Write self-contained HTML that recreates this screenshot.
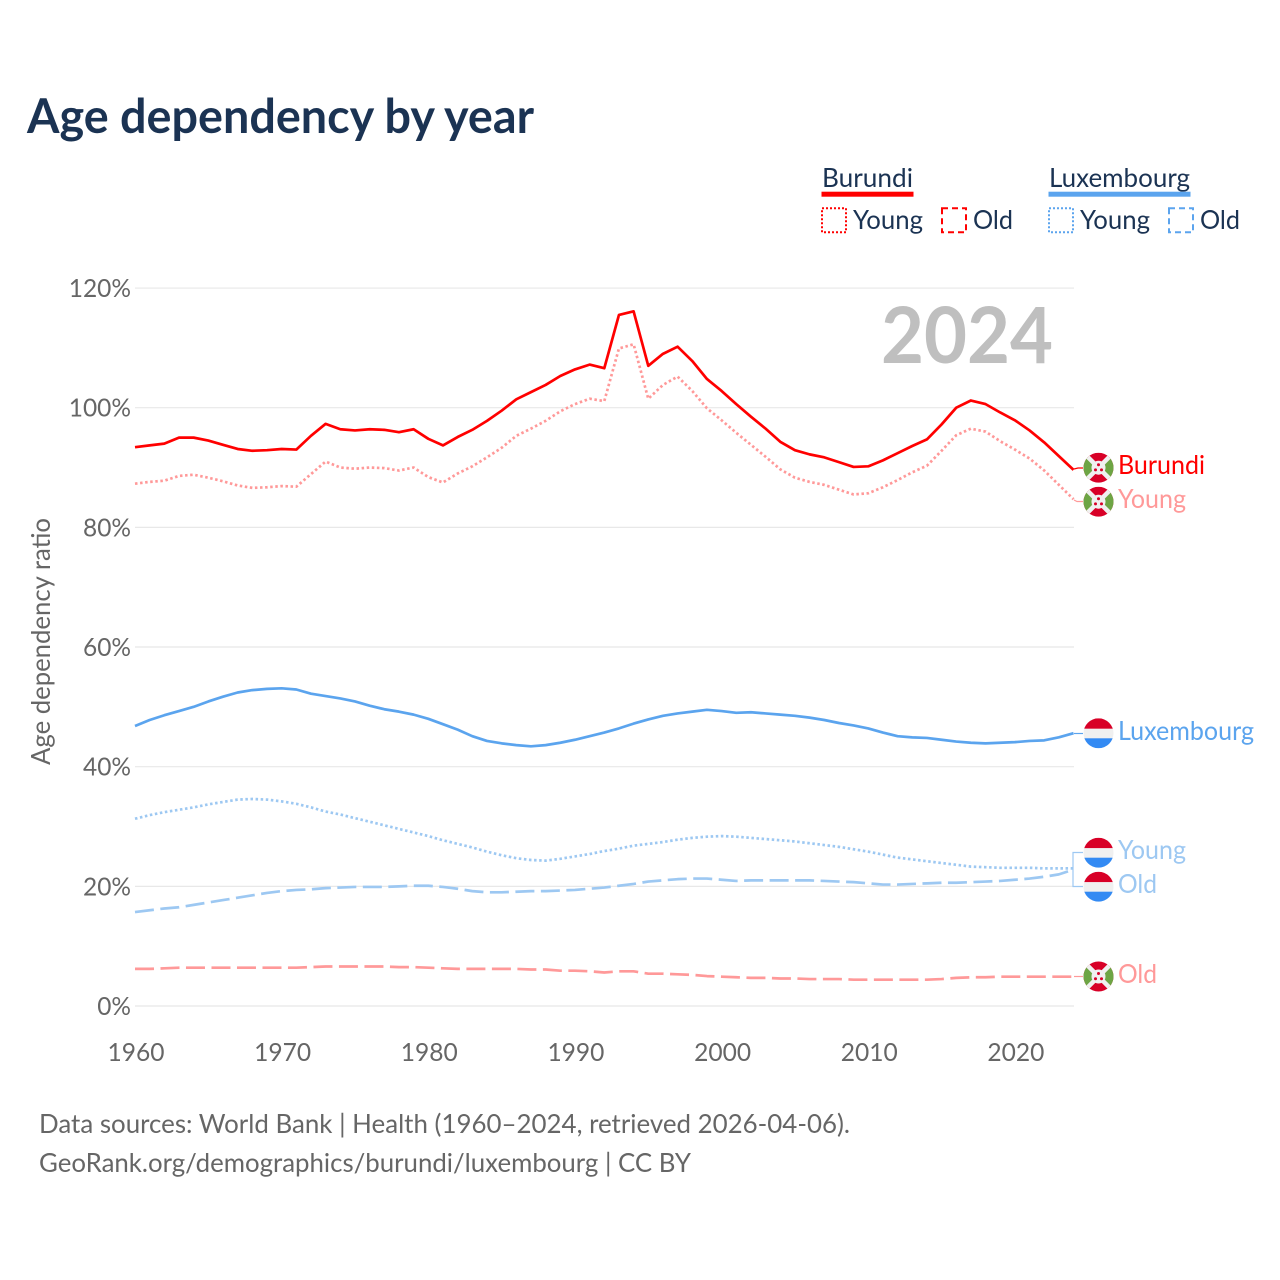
<!DOCTYPE html>
<html lang="en">
<head>
<meta charset="utf-8">
<title>Age dependency by year</title>
<style>
html,body{margin:0;padding:0;background:#fff;width:1280px;height:1280px;overflow:hidden}
svg{display:block}
text{font-family:Lato,Carlito,"Liberation Sans",sans-serif}
</style>
</head>
<body>
<svg id="chart" xmlns="http://www.w3.org/2000/svg" width="1280" height="1280" viewBox="0 0 1280 1280">
  <defs>
    <clipPath id="flag-clip"><circle cx="0" cy="0" r="15"/></clipPath>
    <g id="flag-burundi" clip-path="url(#flag-clip)">
      <rect x="-15" y="-15" width="30" height="30" fill="#d80027"/>
      <path d="M-15 -15 L0 0 L-15 15Z M15 -15 L0 0 L15 15Z" fill="#6da544"/>
      <path d="M-15 -15 L15 15 M15 -15 L-15 15" stroke="#f0f0f0" stroke-width="4.5"/>
      <circle r="7" fill="#f0f0f0"/>
      <circle cx="0" cy="-3" r="1.5" fill="#d80027"/>
      <circle cx="-3" cy="2.2" r="1.5" fill="#d80027"/>
      <circle cx="3" cy="2.2" r="1.5" fill="#d80027"/>
    </g>
    <g id="flag-luxembourg" clip-path="url(#flag-clip)">
      <rect x="-15" y="-15" width="30" height="10.5" fill="#d80027"/>
      <rect x="-15" y="-4.5" width="30" height="10" fill="#f0f0f0"/>
      <rect x="-15" y="5" width="30" height="10" fill="#338af3"/>
    </g>
  </defs>

  <text x="27" y="133" font-size="48" font-weight="700" fill="#1b3353" textLength="507" lengthAdjust="spacingAndGlyphs">Age dependency by year</text>

  <g id="grid"></g>
  <g id="y-ticks"></g>
  <g id="x-ticks"></g>

  <text transform="translate(50,765) rotate(-90)" font-size="26" fill="#666666" textLength="247" lengthAdjust="spacingAndGlyphs">Age dependency ratio</text>

  <text x="881" y="363" font-size="78" font-weight="700" fill="#bfbfbf" textLength="172" lengthAdjust="spacingAndGlyphs">2024</text>

  <g id="series"></g>

  <g fill="none" stroke-width="1.2">
    <path d="M1074 469 L1078 468 L1083 468" stroke="#ff0000"/>
    <path d="M1074 500 L1077 501.5 L1083 501.5" stroke="#ff9999"/>
    <path d="M1074 976.5 L1083 976.5" stroke="#ff9999"/>
    <path d="M1074 733.5 L1083 733.5" stroke="#5ba4ee"/>
    <path d="M1073 868 L1073 852.5 L1083 852.5" stroke="#9dc8f2"/>
    <path d="M1073 868 L1073 886.5 L1083 886.5" stroke="#9dc8f2"/>
  </g>

  <use href="#flag-burundi" x="1098.5" y="467.7"/>
  <use href="#flag-burundi" x="1098.5" y="501.7"/>
  <use href="#flag-burundi" x="1098.5" y="976.5"/>
  <use href="#flag-luxembourg" x="1098.5" y="733.3"/>
  <use href="#flag-luxembourg" x="1098.5" y="852.7"/>
  <use href="#flag-luxembourg" x="1098.5" y="886.7"/>

  <g font-size="26">
    <text x="1118" y="474" fill="#ff0000" textLength="87" lengthAdjust="spacingAndGlyphs">Burundi</text>
    <text x="1118" y="508" fill="#ff9999" textLength="68" lengthAdjust="spacingAndGlyphs">Young</text>
    <text x="1118" y="983" fill="#ff9999" textLength="39" lengthAdjust="spacingAndGlyphs">Old</text>
    <text x="1118" y="740" fill="#5ba4ee" textLength="136" lengthAdjust="spacingAndGlyphs">Luxembourg</text>
    <text x="1118" y="859" fill="#9dc8f2" textLength="68" lengthAdjust="spacingAndGlyphs">Young</text>
    <text x="1118" y="893" fill="#9dc8f2" textLength="39" lengthAdjust="spacingAndGlyphs">Old</text>
  </g>

  <g font-size="26" fill="#1b3353">
    <text x="822" y="187" textLength="91" lengthAdjust="spacingAndGlyphs">Burundi</text>
    <rect x="821.5" y="191.7" width="92" height="5" fill="#ff0000"/>
    <rect x="822" y="208.3" width="24" height="24" fill="none" stroke="#ff0000" stroke-width="2" stroke-dasharray="2 2"/>
    <text x="853" y="229" textLength="70" lengthAdjust="spacingAndGlyphs">Young</text>
    <rect x="942" y="208.3" width="24" height="24" fill="none" stroke="#ff0000" stroke-width="2" stroke-dasharray="6 4"/>
    <text x="973" y="229" textLength="40" lengthAdjust="spacingAndGlyphs">Old</text>

    <text x="1049" y="187" textLength="141" lengthAdjust="spacingAndGlyphs">Luxembourg</text>
    <rect x="1048.5" y="191.7" width="142" height="5" fill="#5ba4ee"/>
    <rect x="1049" y="208.3" width="24" height="24" fill="none" stroke="#5ba4ee" stroke-width="2" stroke-dasharray="2 2"/>
    <text x="1080" y="229" textLength="70" lengthAdjust="spacingAndGlyphs">Young</text>
    <rect x="1169" y="208.3" width="24" height="24" fill="none" stroke="#5ba4ee" stroke-width="2" stroke-dasharray="6 4"/>
    <text x="1200" y="229" textLength="40" lengthAdjust="spacingAndGlyphs">Old</text>
  </g>

  <g font-size="26" fill="#666666">
    <text x="39" y="1133" textLength="811" lengthAdjust="spacingAndGlyphs">Data sources: World Bank | Health (1960–2024, retrieved 2026-04-06).</text>
    <text x="39" y="1172" textLength="652" lengthAdjust="spacingAndGlyphs">GeoRank.org/demographics/burundi/luxembourg | CC BY</text>
  </g>
</svg>
<script>
const startYear = 1960;
const yTickValues = [0, 20, 40, 60, 80, 100, 120];
const xTickValues = [1960, 1970, 1980, 1990, 2000, 2010, 2020];

const burundiTotal = [
  93.4,93.7,94.0,95.0,95.0,94.5,93.8,93.1,92.8,92.9,
  93.1,93.0,95.3,97.3,96.4,96.2,96.4,96.3,95.9,96.4,
  94.8,93.7,95.1,96.3,97.8,99.5,101.4,102.6,103.8,105.3,
  106.4,107.2,106.6,115.5,116.1,107.0,109.0,110.2,107.8,104.8,
  102.8,100.6,98.5,96.5,94.3,92.9,92.2,91.7,90.9,90.1,
  90.2,91.2,92.4,93.6,94.7,97.2,100.0,101.2,100.6,99.2,
  97.9,96.2,94.2,91.9,89.6
];
const burundiYoung = [
  87.3,87.6,87.8,88.6,88.8,88.3,87.7,87.0,86.6,86.7,
  86.9,86.8,88.9,91.0,90.0,89.8,90.0,89.9,89.5,90.0,
  88.4,87.5,89.0,90.2,91.7,93.3,95.3,96.5,97.8,99.4,
  100.6,101.5,101.1,109.9,110.6,101.5,103.8,105.2,102.8,99.9,
  97.9,95.8,93.8,91.8,89.7,88.3,87.6,87.1,86.3,85.5,
  85.7,86.7,87.9,89.2,90.3,92.8,95.4,96.5,96.0,94.4,
  93.0,91.5,89.5,87.1,84.7
];
const burundiOld = [
  6.2,6.2,6.3,6.4,6.4,6.4,6.4,6.4,6.4,6.4,
  6.4,6.4,6.5,6.6,6.6,6.6,6.6,6.6,6.5,6.5,
  6.4,6.3,6.2,6.2,6.2,6.2,6.2,6.1,6.1,5.9,
  5.9,5.8,5.6,5.8,5.8,5.4,5.4,5.3,5.2,5.0,
  4.9,4.8,4.7,4.7,4.6,4.6,4.5,4.5,4.5,4.4,
  4.4,4.4,4.4,4.4,4.4,4.5,4.7,4.8,4.8,4.9,
  4.9,4.9,4.9,4.9,4.9
];
const luxembourgTotal = [
  46.8,47.8,48.6,49.3,50.0,50.9,51.7,52.4,52.8,53.0,
  53.1,52.9,52.2,51.8,51.4,50.9,50.2,49.6,49.2,48.7,
  48.0,47.1,46.2,45.1,44.3,43.9,43.6,43.4,43.6,44.0,
  44.5,45.1,45.7,46.4,47.2,47.9,48.5,48.9,49.2,49.5,
  49.3,49.0,49.1,48.9,48.7,48.5,48.2,47.8,47.3,46.9,
  46.4,45.7,45.1,44.9,44.8,44.5,44.2,44.0,43.9,44.0,
  44.1,44.3,44.4,44.9,45.6
];
const luxembourgYoung = [
  31.3,31.9,32.4,32.8,33.2,33.7,34.1,34.5,34.6,34.5,
  34.2,33.8,33.2,32.5,32.0,31.4,30.8,30.2,29.6,29.0,
  28.4,27.7,27.1,26.5,25.8,25.2,24.7,24.4,24.3,24.6,
  25.0,25.4,25.9,26.3,26.8,27.1,27.4,27.8,28.1,28.3,
  28.4,28.3,28.1,27.9,27.7,27.5,27.2,26.9,26.6,26.2,
  25.8,25.3,24.8,24.5,24.2,23.9,23.6,23.3,23.2,23.1,
  23.1,23.1,23.0,23.0,23.0
];
const luxembourgOld = [
  15.7,16.0,16.3,16.5,16.9,17.3,17.7,18.1,18.5,18.9,
  19.2,19.4,19.5,19.7,19.8,19.9,19.9,19.9,20.0,20.1,
  20.1,19.9,19.6,19.2,19.0,19.0,19.1,19.2,19.2,19.3,
  19.4,19.6,19.8,20.1,20.4,20.8,21.0,21.2,21.3,21.3,
  21.1,20.9,21.0,21.0,21.0,21.0,21.0,20.9,20.8,20.7,
  20.5,20.3,20.3,20.4,20.5,20.6,20.6,20.7,20.8,20.9,
  21.1,21.3,21.6,22.0,22.8
];

const SVG_NS = 'http://www.w3.org/2000/svg';
const xScale = function (year) { return 135 + (year - startYear) * 14.665; };
const yScale = function (value) { return 1006 - value * 5.983; };

const gridGroup = document.getElementById('grid');
const yTickGroup = document.getElementById('y-ticks');
const xTickGroup = document.getElementById('x-ticks');
const seriesGroup = document.getElementById('series');

yTickValues.forEach(function (value) {
  const line = document.createElementNS(SVG_NS, 'line');
  
  
  line.setAttribute('x1', 135);
  line.setAttribute('x2', 1074);
  line.setAttribute('y1', yScale(value));
  line.setAttribute('y2', yScale(value));
  line.setAttribute('stroke', '#e8e8e8');
  line.setAttribute('stroke-width', 1.2);
  gridGroup.appendChild(line);

  const text = value + '%';
  const label = document.createElementNS(SVG_NS, 'text');
  
  
  label.setAttribute('x', 131);
  label.setAttribute('y', yScale(value) + 9);
  label.setAttribute('text-anchor', 'end');
  label.setAttribute('font-size', 25.5);
  label.setAttribute('fill', '#666666');
  label.setAttribute('textLength', (text.length - 1) * 14.25 + 19.5);
  label.setAttribute('lengthAdjust', 'spacingAndGlyphs');
  label.textContent = text;
  yTickGroup.appendChild(label);
});

xTickValues.forEach(function (year) {
  const label = document.createElementNS(SVG_NS, 'text');
  
  
  label.setAttribute('x', xScale(year) + 1);
  label.setAttribute('y', 1061);
  label.setAttribute('text-anchor', 'middle');
  label.setAttribute('font-size', 25.5);
  label.setAttribute('fill', '#666666');
  label.setAttribute('textLength', 57);
  label.setAttribute('lengthAdjust', 'spacingAndGlyphs');
  label.textContent = String(year);
  xTickGroup.appendChild(label);
});

function drawSeries(values, name, color, width, dash) {
  const path = document.createElementNS(SVG_NS, 'path');
  
  
  const d = values.map(function (value, i) {
    return (i ? 'L' : 'M') + xScale(startYear + i).toFixed(2) + ' ' + yScale(value).toFixed(2);
  }).join(' ');
  path.setAttribute('d', d);
  path.setAttribute('fill', 'none');
  path.setAttribute('stroke', color);
  path.setAttribute('stroke-width', width);
  path.setAttribute('stroke-linejoin', 'round');
  if (dash) { path.setAttribute('stroke-dasharray', dash); }
  seriesGroup.appendChild(path);
}

drawSeries(luxembourgOld, 'line-luxembourg-old', '#9dc8f2', 2.7, '19 6.5');
drawSeries(luxembourgYoung, 'line-luxembourg-young', '#9dc8f2', 2.7, '2.5 2.6');
drawSeries(luxembourgTotal, 'line-luxembourg-total', '#5ba4ee', 2.7, '');
drawSeries(burundiOld, 'line-burundi-old', '#ff9999', 2.7, '19 6.5');
drawSeries(burundiYoung, 'line-burundi-young', '#ff9999', 2.7, '2.5 2.6');
drawSeries(burundiTotal, 'line-burundi-total', '#ff0000', 2.7, '');
</script>
</body>
</html>
